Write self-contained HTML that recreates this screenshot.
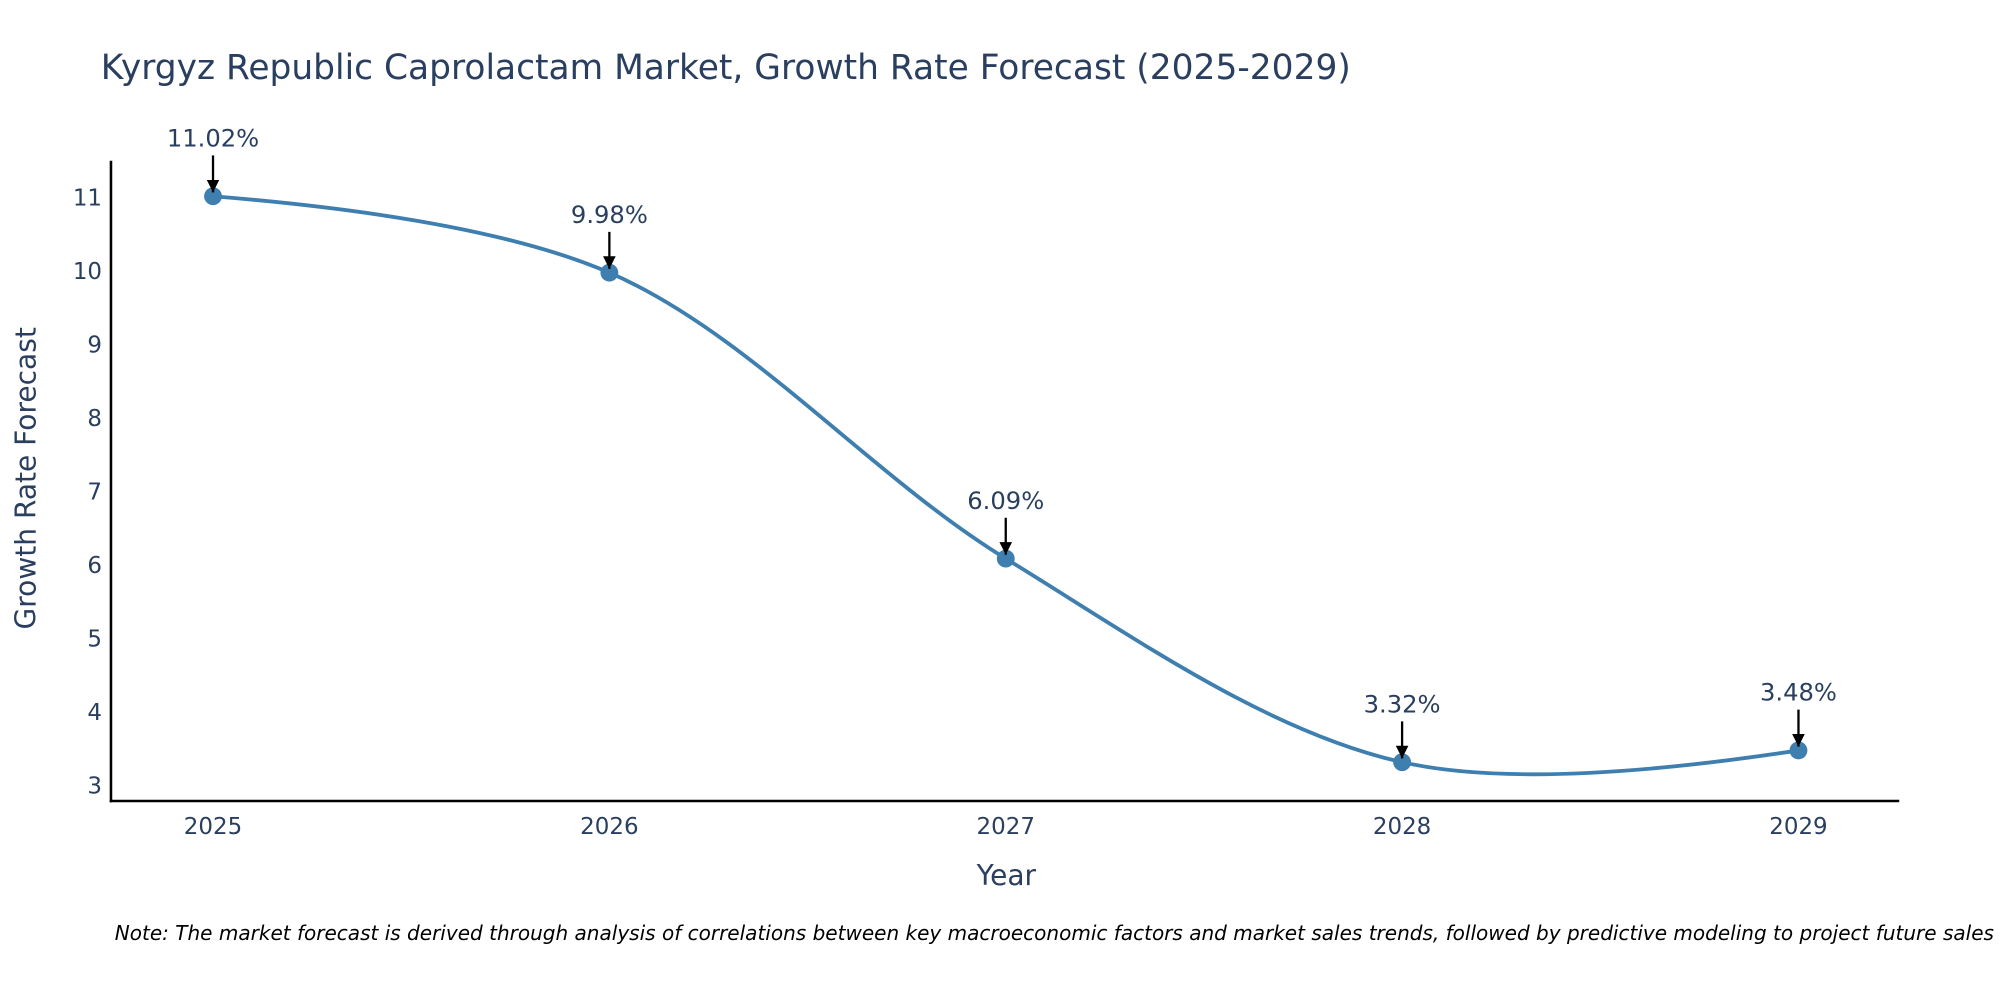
<!DOCTYPE html>
<html><head><meta charset="utf-8"><style>
html,body{margin:0;padding:0;background:#fff;}
svg{display:block;font-family:"DejaVu Sans","Liberation Sans",sans-serif;}
</style></head><body>
<svg id="chart" width="2000" height="1000" viewBox="0 0 1568 784" xmlns="http://www.w3.org/2000/svg">
<defs><marker id="ah" viewBox="0 0 10 10" refX="10" refY="5" markerWidth="5.5" markerHeight="5.5" orient="auto"><path d="M0,0 L10,5 L0,10 Z" fill="#000"/></marker></defs>
<text x="79" y="62" font-size="27" fill="#2a3f5f">Kyrgyz Republic Caprolactam Market, Growth Rate Forecast (2025-2029)</text>
<g id="yticks"></g><g id="xticks"></g>
<path id="line" fill="none" stroke="#3f7fb0" stroke-width="3"/>
<g id="points"></g><g id="annots"></g>
<line x1="87" y1="126" x2="87" y2="629" stroke="#000" stroke-width="2"/>
<line x1="86" y1="628" x2="1489" y2="628" stroke="#000" stroke-width="2"/>
<text transform="translate(28,375) rotate(-90)" text-anchor="middle" font-size="22" fill="#2a3f5f">Growth Rate Forecast</text>
<text x="789" y="694" text-anchor="middle" font-size="22" fill="#2a3f5f">Year</text>
<text x="90" y="737" font-size="15.7" font-style="italic" fill="#000">Note: The market forecast is derived through analysis of correlations between key macroeconomic factors and market sales trends, followed by predictive modeling to project future sales</text>
</svg>
<script>
const years=["2025","2026","2027","2028","2029"];
const values=[11.02,9.98,6.09,3.32,3.48];
const labels=["11.02%","9.98%","6.09%","3.32%","3.48%"];
const yTicks=[3,4,5,6,7,8,9,10,11];
const NS="http://www.w3.org/2000/svg";
function xS(i){return 167+i*(1410-167)/(years.length-1);}
function yS(v){return 616-(v-3)*(616-155)/8;}
function mk(t,a,p){const e=document.createElementNS(NS,t);for(const k in a)e.setAttribute(k,a[k]);p.appendChild(e);return e;}
const yt=document.getElementById('yticks');
yTicks.forEach(v=>{const t=mk('text',{x:80,y:yS(v)+6,'text-anchor':'end','font-size':18,fill:'#2a3f5f'},yt);t.textContent=v;

});
const xt=document.getElementById('xticks');
years.forEach((y,i)=>{const t=mk('text',{x:xS(i),y:654,'text-anchor':'middle','font-size':18,fill:'#2a3f5f'},xt);t.textContent=y;

});
const P=values.map((v,i)=>[xS(i),yS(v)]);
function tangent(p0,p1,p2,sm){
  const d1x=p0[0]-p1[0],d1y=p0[1]-p1[1],d2x=p2[0]-p1[0],d2y=p2[1]-p1[1];
  const d1a=Math.pow(d1x*d1x+d1y*d1y,0.25),d2a=Math.pow(d2x*d2x+d2y*d2y,0.25);
  const nx=(d2a*d2a*d1x-d1a*d1a*d2x)*sm,ny=(d2a*d2a*d1y-d1a*d1a*d2y)*sm;
  const den1=3*d2a*(d1a+d2a),den2=3*d1a*(d1a+d2a);
  return [[p1[0]+nx/den1,p1[1]+ny/den1],[p1[0]-nx/den2,p1[1]-ny/den2]];
}
const T=[];for(let i=1;i<P.length-1;i++)T.push(tangent(P[i-1],P[i],P[i+1],1));
let d='M'+P[0]+'Q'+T[0][0]+' '+P[1];
for(let i=2;i<P.length-1;i++)d+='C'+T[i-2][1]+' '+T[i-1][0]+' '+P[i];
d+='Q'+T[P.length-3][1]+' '+P[P.length-1];
document.getElementById('line').setAttribute('d',d);
const pg=document.getElementById('points'),ag=document.getElementById('annots');
P.forEach((p,i)=>{const c=mk('circle',{cx:p[0],cy:p[1],r:7,fill:'#3f7fb0'},pg);


const l=mk('line',{x1:p[0],y1:p[1]-32,x2:p[0],y2:p[1]-3,stroke:'#000','stroke-width':1.8,'marker-end':'url(#ah)'},ag);


const t=mk('text',{x:p[0],y:p[1]-39,'text-anchor':'middle','font-size':19,fill:'#2a3f5f'},ag);t.textContent=labels[i];

});
</script>
</body></html>
